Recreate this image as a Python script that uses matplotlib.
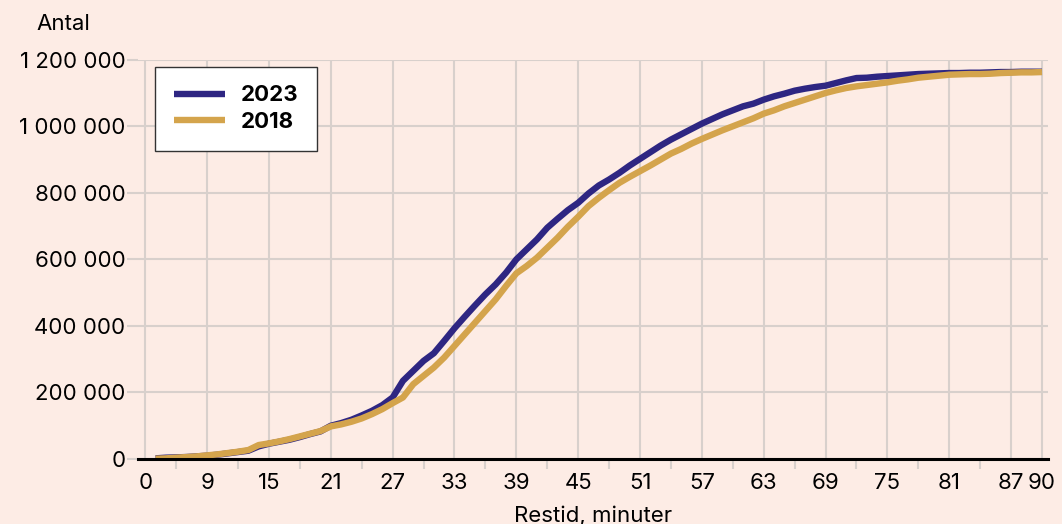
import matplotlib
matplotlib.use("Agg")
import matplotlib.pyplot as plt
from matplotlib.ticker import FuncFormatter, FixedLocator

# minutes 4..90 (the first tick, labelled "0", sits at minute 3)
minutes = list(range(4, 91))

# cumulative number of people reached, thousands
antal_2023 = [2, 4, 5, 6, 8, 10, 13, 17, 21, 25, 38, 46, 52, 58, 66, 75, 83, 100, 108, 118,
              131, 145, 162, 185, 235, 265, 295, 318, 355, 393, 428, 462, 495, 525, 560, 600,
              630, 660, 695, 722, 748, 770, 798, 822, 840, 860, 882, 902, 922, 942, 960, 976,
              992, 1008, 1022, 1036, 1048, 1060, 1068, 1080, 1090, 1098, 1107, 1113, 1118, 1122,
              1130, 1138, 1145, 1146, 1149, 1151, 1153, 1155, 1157, 1158, 1159, 1160, 1160, 1161,
              1161, 1162, 1163, 1163, 1164, 1164, 1164]
antal_2018 = [1, 2, 4, 6, 8, 11, 14, 18, 22, 27, 42, 47, 53, 60, 68, 76, 84, 98, 104, 112,
              122, 135, 150, 168, 185, 225, 250, 275, 305, 340, 375, 410, 445, 480, 520, 558,
              580, 605, 635, 665, 698, 728, 760, 785, 808, 830, 848, 865, 882, 900, 918, 932,
              948, 962, 975, 988, 1000, 1012, 1024, 1038, 1048, 1060, 1070, 1080, 1090, 1100,
              1108, 1115, 1120, 1124, 1128, 1132, 1137, 1141, 1146, 1149, 1152, 1155, 1156, 1157,
              1157, 1158, 1160, 1161, 1162, 1162, 1163]

tick_pos = [3] + list(range(9, 88, 6)) + [90]
tick_lab = ["0"] + [str(t) for t in range(9, 88, 6)] + ["90"]
minor_pos = list(range(6, 85, 6))

BG = "#fdece5"
NAVY = "#2e2682"
GOLD = "#d4a44c"
GRID = "#d8d0cc"

plt.rcParams["font.family"] = ["Inter", "DejaVu Sans"]

fig = plt.figure(figsize=(10.62, 5.24), dpi=100, facecolor=BG)
ax = fig.add_axes([0.130, 0.124, 0.857, 0.762], facecolor=BG)

ax.plot(minutes, [v * 1000 for v in antal_2023], color=NAVY, lw=4.6, label="2023",
        solid_capstyle="butt", zorder=3)
ax.plot(minutes, [v * 1000 for v in antal_2018], color=GOLD, lw=4.6, label="2018",
        solid_capstyle="butt", zorder=3)

ax.set_xlim(2.3, 90.6)
ax.set_ylim(0, 1200000)
ax.xaxis.set_major_locator(FixedLocator(tick_pos))
ax.set_xticklabels(tick_lab)
ax.xaxis.set_minor_locator(FixedLocator(minor_pos))
ax.set_yticks(range(0, 1200001, 200000))
ax.yaxis.set_major_formatter(FuncFormatter(lambda v, p: f"{int(v):,}".replace(",", " ")))

ax.grid(True, color=GRID, lw=1.5, zorder=0)
for s in ["top", "right", "left"]:
    ax.spines[s].set_visible(False)
ax.spines["bottom"].set_color("black")
ax.spines["bottom"].set_linewidth(2.2)
ax.spines["bottom"].set_zorder(4)

ax.tick_params(axis="x", which="major", length=0, pad=10, labelsize=16, colors="black")
ax.tick_params(axis="x", which="minor", length=7, width=1.5, color=GRID)
ax.tick_params(axis="y", which="major", length=8, width=1.5, color=GRID, pad=1,
               labelsize=16)

ax.set_xlabel("Restid, minuter", fontsize=16, labelpad=9)
fig.text(0.034, 0.955, "Antal", fontsize=16, ha="left", va="center")

leg = ax.legend(loc="upper left", bbox_to_anchor=(0.019, 0.983), frameon=True,
                fancybox=False, framealpha=1, edgecolor="#333333",
                prop={"weight": "bold", "size": 16}, handlelength=2.3,
                borderpad=0.85, labelspacing=0.3, handletextpad=0.7, borderaxespad=0)
leg.get_frame().set_linewidth(1.0)

fig.savefig("out.png", dpi=100, facecolor=BG)
